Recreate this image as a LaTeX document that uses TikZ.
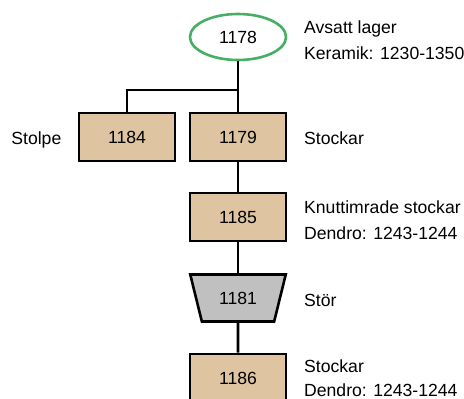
\documentclass[tikz,border=0pt]{standalone}
\usepackage{fontspec}
\setmainfont{Liberation Sans}
\usetikzlibrary{shapes.geometric}
\definecolor{boxtan}{RGB}{222,196,160}
\definecolor{trapgray}{RGB}{192,192,192}
\definecolor{ellgreen}{RGB}{70,175,100}
\begin{document}
\begin{tikzpicture}[x=1pt,y=-1pt,
  every node/.style={font=\fontsize{17.6}{26}\selectfont},
  unitbox/.style={draw=black, line width=2.6pt, fill=boxtan, minimum width=96pt, minimum height=48pt, inner sep=0pt},
  conn/.style={draw=black, line width=2.6pt},
  note/.style={anchor=base west, inner sep=0pt}]
\useasboundingbox (0,0) rectangle (464,399);
\node[draw=ellgreen, line width=2.6pt, ellipse, minimum width=96pt, minimum height=46pt, inner sep=0pt] (e1178) at (238,37) {1178};
\node[unitbox] (b1184) at (127,137) {1184};
\node[unitbox] (b1179) at (238,137) {1179};
\node[unitbox] (b1185) at (238,217) {1185};
\node[trapezium, draw=black, line width=2.6pt, fill=trapgray, trapezium angle=64, shape border rotate=180, trapezium stretches=true, minimum width=96pt, minimum height=47pt, inner sep=0pt] (t1181) at (238,298) {1181};
\node[unitbox] (b1186) at (238,378) {1186};
\coordinate (j) at (238,90);
\draw[conn] (e1178) -- (b1179);
\draw[conn] (b1184.north) |- (j);
\draw[conn] (b1179) -- (b1185);
\draw[conn] (b1185) -- (t1181);
\draw[conn] (t1181) -- (b1186);
\node[note] (n1178a) at (304,33.3) {Avsatt lager};
\node[note] (n1178b) at (304,59.3) {Keramik: 1230-1350};
\node[anchor=base east, inner sep=0pt] (n1184) at (61.5,144) {Stolpe};
\node[note] (n1179) at (304,144) {Stockar};
\node[note] (n1185a) at (304,213.3) {Knuttimrade stockar};
\node[note] (n1185b) at (304,239.3) {Dendro: 1243-1244};
\node[note] (n1181) at (304,306) {Stör};
\node[note] (n1186a) at (304,372) {Stockar};
\node[note, text depth=0pt] (n1186b) at (304,396) {Dendro: 1243-1244};
\end{tikzpicture}
\end{document}
